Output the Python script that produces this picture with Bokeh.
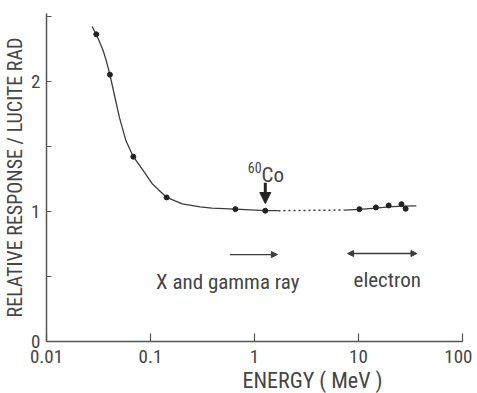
import math
from bokeh.plotting import figure
from bokeh.models import Arrow, NormalHead, Label, FixedTicker, Title
from bokeh.embed import file_html
from bokeh.resources import INLINE

# Smooth response curve
curve_e = [0.0274, 0.0301, 0.0349, 0.0375, 0.0407, 0.0451, 0.0503, 0.0582, 0.0684,
           0.0839, 0.1045, 0.143, 0.202, 0.30, 0.389, 0.655, 1.27, 1.7]
curve_r = [2.42, 2.36, 2.24, 2.16, 2.05, 1.89, 1.72, 1.54, 1.42,
           1.32, 1.21, 1.107, 1.057, 1.035, 1.025, 1.017, 1.005, 1.005]
# Dotted gap
gap_e = [1.7, 7.2]
gap_r = [1.005, 1.01]
# Electron part
elec_e = [7.2, 10.2, 14.7, 19.5, 25.9, 36.0]
elec_r = [1.01, 1.015, 1.025, 1.035, 1.04, 1.042]
# Measured points
pts_e = [0.0301, 0.0407, 0.0684, 0.143, 0.655, 1.27, 10.2, 14.7, 19.5, 25.9, 28.4]
pts_r = [2.36, 2.05, 1.42, 1.107, 1.017, 1.005, 1.017, 1.03, 1.045, 1.055, 1.02]

x_ticks = [0.01, 0.1, 1, 10, 100]
x_labels = ["0.01", "0.1", "1", "10", "100"]
y_ticks = [0, 0.5, 1, 1.5, 2, 2.5]
y_labels = ["0", "", "1", "", "2", ""]

FONT = "Roboto Condensed"
INK = "#3c3c3c"
TXT = "#454545"

p = figure(width=472, height=393, x_axis_type="log", x_range=(0.01, 100), y_range=(0, 2.52),
           output_backend="svg", toolbar_location=None,
           min_border_left=43, min_border_right=10, min_border_top=13, min_border_bottom=52)
p.outline_line_color = None
p.grid.visible = False

for ax in (p.xaxis[0], p.yaxis[0]):
    ax.axis_line_color = "#555555"
    ax.axis_line_width = 1.5
    ax.major_tick_line_color = "#555555"
    ax.major_tick_line_width = 1.2
    ax.major_tick_out = 0
    ax.minor_tick_line_color = None
    ax.major_label_text_font = FONT
    ax.major_label_text_font_size = "19px"
    ax.major_label_text_color = TXT

p.xaxis.ticker = FixedTicker(ticks=x_ticks)
p.xaxis.major_label_overrides = {t: l for t, l in zip(x_ticks, x_labels)}
p.xaxis.major_tick_in = 8
p.xaxis.major_label_standoff = 8
p.yaxis.ticker = FixedTicker(ticks=y_ticks)
p.yaxis.major_label_overrides = {t: l for t, l in zip(y_ticks, y_labels)}
p.yaxis.major_tick_in = 5
p.yaxis.major_label_standoff = 6
p.yaxis.axis_label = "RELATIVE RESPONSE / LUCITE RAD"
p.yaxis.axis_label_text_font = FONT
p.yaxis.axis_label_text_font_size = "20px"
p.yaxis.axis_label_text_font_style = "normal"
p.yaxis.axis_label_text_color = TXT
p.yaxis.axis_label_standoff = 1

p.add_layout(Title(text="ENERGY ( MeV )", align="left", offset=196, standoff=0,
                   text_font=FONT, text_font_size="22px", text_font_style="normal",
                   text_color=TXT), "below")

p.line(curve_e, curve_r, line_color=INK, line_width=1.3)
p.line(gap_e, gap_r, line_color=INK, line_width=1.5, line_dash="2 3")
p.line(elec_e, elec_r, line_color=INK, line_width=1.3)
p.scatter(pts_e, pts_r, size=5, color="#222222")

# arrows
p.add_layout(Arrow(end=NormalHead(size=11, fill_color="#222222", line_color="#222222"),
                   x_start=1.27, y_start=1.22, x_end=1.27, y_end=1.06,
                   line_width=3, line_color="#222222"))
p.add_layout(Arrow(end=NormalHead(size=6, fill_color=INK, line_color=INK),
                   x_start=0.58, y_start=0.668, x_end=1.66, y_end=0.668,
                   line_width=1.3, line_color=INK))
p.add_layout(Arrow(start=NormalHead(size=6, fill_color=INK, line_color=INK),
                   end=NormalHead(size=6, fill_color=INK, line_color=INK),
                   x_start=7.85, y_start=0.676, x_end=36.5, y_end=0.676,
                   line_width=1.3, line_color=INK))

def lab(x, y, text, size, align="center", baseline="alphabetic"):
    p.add_layout(Label(x=x, y=y, text=text, text_font=FONT, text_font_size=size,
                       text_color=TXT, text_align=align, text_baseline=baseline))

lab(1.17, 1.28, "Co", "21px", align="left")
lab(1.17, 1.335, "60", "14px", align="right")
lab(0.553, 0.46, "X and gamma ray", "21px")
lab(18.9, 0.476, "electron", "21px")

open("out.html", "w").write(file_html(p, INLINE))
